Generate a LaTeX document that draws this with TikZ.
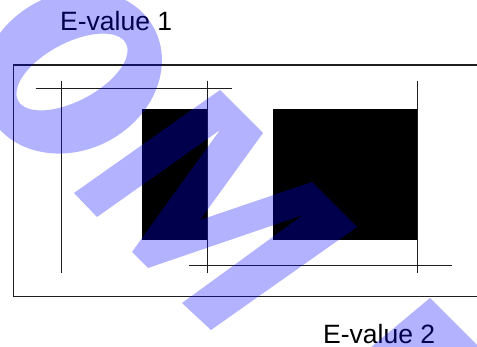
\documentclass[tikz,border=0pt]{standalone}
\usepackage{fontspec}
\newfontfamily\labelfont{Liberation Sans}
\usetikzlibrary{positioning}
\definecolor{inkline}{HTML}{1E1E1E}
\definecolor{wmblue}{HTML}{0000FF}

\begin{document}
\begin{tikzpicture}[
    x=1pt, y=-1pt,
    frame/.style={draw=inkline, line width=1.3pt},
    guide/.style={draw=inkline, line width=1pt},
    blockfill/.style={fill=black},
    evlabel/.style={font=\labelfont\fontsize{26.5}{30}\selectfont, inner sep=0pt, anchor=base west},
    wmark/.style={fill=wmblue, fill opacity=0.3}
]
    \useasboundingbox (0,0) rectangle (477,347);
    \clip (0,0) rectangle (477,347);

    % Labels
    \node[evlabel] (EV1) at (60,31) {E-value 1};
    \node[evlabel] (EV2) at (323,344) {E-value 2};

    % Frame, open to the right
    \draw[frame] (480,65) -- (13.3,65) -- (13.3,296.7) -- (480,296.7);

    % Blocks
    \fill[blockfill] (141.7,109.3) rectangle (207.7,240);
    \fill[blockfill] (273.3,109.3) rectangle (417,240);

    % Guides
    \draw[guide] (35.7,89) -- (231.7,89);
    \draw[guide] (189.3,265.7) -- (451.7,265.7);
    \draw[guide] (61,80.7) -- (61,273.3);
    \draw[guide] (207.7,80.7) -- (207.7,273.3);
    \draw[guide] (417,80.7) -- (417,273.3);

    % Watermark
    \fill[wmark, even odd rule, rotate around={28:(72,72)}]
        (72,72) ellipse [x radius=93, y radius=78]
        (72,72) ellipse [x radius=61, y radius=29];
    \fill[wmark] (74,193) -- (220,90) -- (263,133) -- (200,220) -- (312,182)
        -- (357,227) -- (211,330) -- (182,303) -- (303,215) -- (148,268)
        -- (132,252) -- (220,130) -- (97,217) -- cycle;
    \fill[wmark] (430,298) -- (500,368) -- (346,368) -- cycle;
\end{tikzpicture}
\end{document}
